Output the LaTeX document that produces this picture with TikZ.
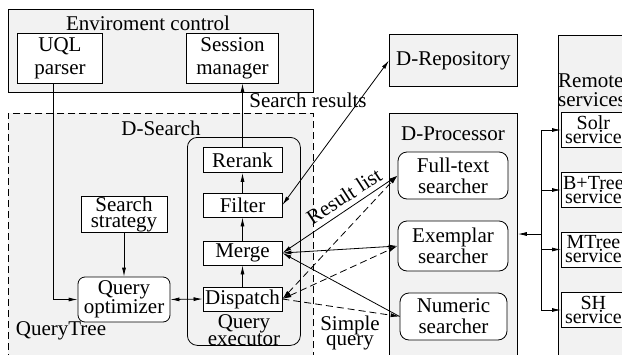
\documentclass[tikz,border=0pt]{standalone}
\usepackage{fontspec}
\setmainfont{Liberation Serif}
\newfontfamily\lser{Liberation Serif}
\usetikzlibrary{arrows.meta}
\definecolor{panel}{HTML}{F2F2F2}
\tikzset{
  conn/.style={line width=0.8pt},
  tip/.style={conn,-{Latex[length=9pt,width=4pt]}},
  both/.style={conn,{Latex[length=9pt,width=4pt]}-{Latex[length=9pt,width=4pt]}},
  dsh/.style={dash pattern=on 7pt off 4pt},
  panelbox/.style={draw, line width=0.8pt, fill=panel, inner sep=0pt, anchor=north west},
  base/.style={draw, line width=0.8pt, fill=white, inner sep=0pt, align=center, font=\lser\fontsize{21}{21}\selectfont},
  rbox/.style={base, rounded corners=9pt},
  svc/.style={base, anchor=west, minimum width=64pt, minimum height=35pt, font=\lser\fontsize{20}{14}\selectfont},
  lbl/.style={inner sep=0pt, align=center, font=\lser\fontsize{21}{21}\selectfont},
}
\begin{document}
\begin{tikzpicture}[x=1pt,y=-1pt]
\useasboundingbox (0,0) rectangle (622,354);
\clip (0,0) rectangle (622,354);
% panels
\node[panelbox, minimum width=305pt, minimum height=83pt] (env) at (8,9) {};
\node[panelbox, dsh, minimum width=305pt, minimum height=260pt] (dsearch) at (8,113) {};
\node[panelbox, rounded corners=10pt, minimum width=113pt, minimum height=208pt] (qexec) at (187,137) {};
\node[panelbox, minimum width=128pt, minimum height=52pt, font=\lser\fontsize{21}{21}\selectfont] (drepo) at (389,34) {D-Repository};
\node[panelbox, minimum width=128pt, minimum height=260pt] (dproc) at (389,113) {};
\node[panelbox, minimum width=100pt, minimum height=340pt] (remote) at (558,35) {};
% panel labels
\node[lbl] (envl) at (148,23) {Enviroment control};
\node[lbl] (dsl) at (161,128) {D-Search};
\node[lbl] (qtl) at (61,331) {QueryTree};
\node[lbl, font=\lser\fontsize{21}{16}\selectfont] (qel) at (244,330) {Query\\executor};
\node[lbl] (dpl) at (453,134) {D-Processor};
\node[lbl, anchor=west, align=left, font=\lser\fontsize{21}{19}\selectfont] (rsl) at (558,90) {Remote\\services};
% boxes
\node[base, minimum width=85pt, minimum height=50pt, font=\lser\fontsize{21}{23}\selectfont] (uql) at (60,58) {UQL\\parser};
\node[base, minimum width=92pt, minimum height=50pt, font=\lser\fontsize{21}{23}\selectfont] (sess) at (232.5,58) {Session\\manager};
\node[base, minimum width=79pt, minimum height=25pt] (rerank) at (242.5,160) {Rerank};
\node[base, minimum width=79pt, minimum height=24pt] (filter) at (242.5,205) {Filter};
\node[base, minimum width=79pt, minimum height=24pt] (merge) at (242.5,253) {Merge};
\node[base, minimum width=79pt, minimum height=24pt] (dispatch) at (242.5,299) {Dispatch};
\node[base, minimum width=86pt, minimum height=36pt, font=\lser\fontsize{21}{16}\selectfont] (strat) at (124,214) {Search\\strategy};
\node[base, rounded corners=7pt, minimum width=92pt, minimum height=45pt, font=\lser\fontsize{21}{17}\selectfont] (opt) at (124,299.5) {Query\\optimizer};
\node[rbox, minimum width=110pt, minimum height=47pt] (full) at (453,175.5) {Full-text\\searcher};
\node[rbox, minimum width=110pt, minimum height=50pt] (exem) at (453,246) {Exemplar\\searcher};
\node[rbox, minimum width=107pt, minimum height=47pt] (num) at (453.5,316.5) {Numeric\\searcher};
\node[svc] (solr) at (561,130) {Solr\\service};
\node[svc] (btree) at (561,190) {B+Tree\\service};
\node[svc] (mtree) at (561,249.5) {MTree\\service};
\node[svc] (sh) at (561,310) {SH\\service};
% connectors
\draw[tip] ([xshift=-7pt]uql.south) |- (opt.west);
\draw[tip] (strat.south) -- (opt.north);
\draw[both] (opt.east) -- (dispatch.west);
\draw[tip] (dispatch.north) -- (merge.south);
\draw[tip] (merge.north) -- (filter.south);
\draw[tip] (filter.north) -- (rerank.south);
\draw[tip] (rerank.north) -- (rerank.north |- sess.south);
\node[lbl] (srl) at (308,100) {Search results};
\draw[both] (filter.east) -- (drepo.west);
\draw[both] (merge.east) -- (full.west);
\node[lbl, rotate=33] (rll) at (344,196) {Result list};
\draw[both] (merge.east) -- (exem.west);
\draw[tip] (num.west) -- (merge.east);
\draw[both, dsh] (dispatch.east) -- (full.west);
\draw[both, dsh] (dispatch.east) -- (exem.west);
\draw[tip, dsh] (dispatch.east) -- (num.west);
\node[lbl, font=\lser\fontsize{21}{15}\selectfont] (sql) at (350,333) {Simple\\query};
% bus to remote services
\coordinate (bus) at (541,234);
\draw[tip] (bus) -- (bus -| dproc.east);
\draw[conn] (bus |- solr.west) -- (bus |- sh.west);
\draw[tip] (bus |- solr.west) -- (solr.west);
\draw[tip] (bus |- btree.west) -- (btree.west);
\draw[tip] (bus |- mtree.west) -- (mtree.west);
\draw[tip] (bus |- sh.west) -- (sh.west);
\end{tikzpicture}
\end{document}
